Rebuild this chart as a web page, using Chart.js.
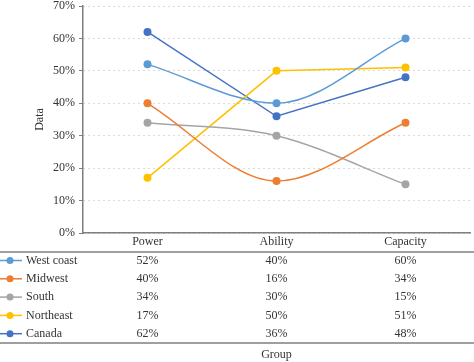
<!DOCTYPE html>
<html>
<head>
<meta charset="utf-8">
<script src="https://cdn.jsdelivr.net/npm/chart.js@4/dist/chart.umd.min.js"></script>
<style>
  body { margin: 0; background: #fff; }
  #wrap { width: 474px; height: 362px; position: relative; }
</style>
</head>
<body>
<div id="wrap"><canvas id="myChart"></canvas></div>
<script>
// categories and series
const groups = ['Power', 'Ability', 'Capacity'];
const regions = ['West coast', 'Midwest', 'South', 'Northeast', 'Canada'];
const westCoast = [52, 40, 60];
const midwest = [40, 16, 34];
const south = [34, 30, 15];
const northeast = [17, 50, 51];
const canada = [62, 36, 48];

const seriesValues = [westCoast, midwest, south, northeast, canada];
const colors = ['#5B9BD5', '#ED7D31', '#A5A5A5', '#FFC000', '#4472C4'];
// the first three series are drawn smoothed, the last two straight
const smoothed = [true, true, true, false, false];
const FONT = '"Liberation Serif", "Times New Roman", serif';

// draws the data table under the x axis (legend keys + values)
const dataTable = {
	id: 'dataTable',
	afterDraw(chart) {
		const ctx = chart.ctx;
		const xs = chart.scales.x;
		const top = xs.top;
		ctx.save();
		ctx.strokeStyle = '#7f7f7f';
		ctx.lineWidth = 1.5;
		[top + 19, top + 110].forEach(function(y) {
			ctx.beginPath();
			ctx.moveTo(0, y);
			ctx.lineTo(chart.width, y);
			ctx.stroke();
		});
		ctx.font = '12px ' + FONT;
		ctx.textBaseline = 'middle';
		chart.data.datasets.forEach(function(ds, i) {
			const y = top + 27.5 + i * 18.3;
			ctx.strokeStyle = ds.borderColor;
			ctx.lineWidth = 1.5;
			ctx.beginPath();
			ctx.moveTo(0, y);
			ctx.lineTo(22, y);
			ctx.stroke();
			ctx.fillStyle = ds.backgroundColor;
			ctx.beginPath();
			ctx.arc(10, y, 3.5, 0, Math.PI * 2);
			ctx.fill();
			ctx.fillStyle = '#333';
			ctx.textAlign = 'left';
			ctx.fillText(ds.label, 26, y);
			ctx.textAlign = 'center';
			ds.data.forEach(function(v, j) {
				ctx.fillText(v + '%', xs.getPixelForValue(j), y);
			});
		});
		ctx.restore();
	}
};

const ctx = document.getElementById('myChart').getContext('2d');
new Chart(ctx, {
	type: 'line',
	data: {
		labels: groups,
		datasets: regions.map(function(name, i) {
			return {
				label: name,
				data: seriesValues[i],
				borderColor: colors[i],
				backgroundColor: colors[i],
				borderWidth: 1.5,
				pointRadius: 4,
				pointBorderWidth: 0,
				cubicInterpolationMode: smoothed[i] ? 'monotone' : 'default',
				tension: smoothed[i] ? 0.4 : 0,
				fill: false
			};
		})
	},
	plugins: [dataTable],
	options: {
		animation: false,
		events: [],
		responsive: true,
		maintainAspectRatio: false,
		layout: {
			padding: { top: 6, right: 1, bottom: 0, left: 0 }
		},
		plugins: {
			legend: { display: false },
			tooltip: { enabled: false }
		},
		scales: {
			x: {
				offset: true,
				grid: { display: false, drawTicks: false },
				border: { display: true, color: '#7f7f7f', width: 1.5 },
				ticks: {
					padding: 2,
					color: '#333',
					font: { family: FONT, size: 12 }
				},
				title: {
					display: true,
					text: 'Group',
					color: '#333',
					padding: { top: 0, bottom: 0 },
					font: { family: FONT, size: 12 }
				},
				afterFit: function(scale) { scale.height = 129; }
			},
			y: {
				min: 0,
				max: 70,
				grid: {
					color: '#b5b5b5',
					lineWidth: 1,
					drawTicks: true,
					tickLength: 4,
					tickColor: '#7f7f7f',
					tickWidth: 1
				},
				border: { display: true, color: '#7f7f7f', width: 1.5, dash: [1, 4] },
				ticks: {
					stepSize: 10,
					padding: 4,
					color: '#333',
					font: { family: FONT, size: 12, lineHeight: 1 },
					callback: function(v) { return v + '%'; }
				},
				title: {
					display: true,
					text: 'Data',
					color: '#333',
					padding: { top: 33, bottom: 0 },
					font: { family: FONT, size: 12 }
				},
				afterFit: function(scale) {
					scale.width = 83;
					scale.paddingTop = 0;
					scale.paddingBottom = 0;
				}
			}
		}
	}
});
</script>
</body>
</html>
